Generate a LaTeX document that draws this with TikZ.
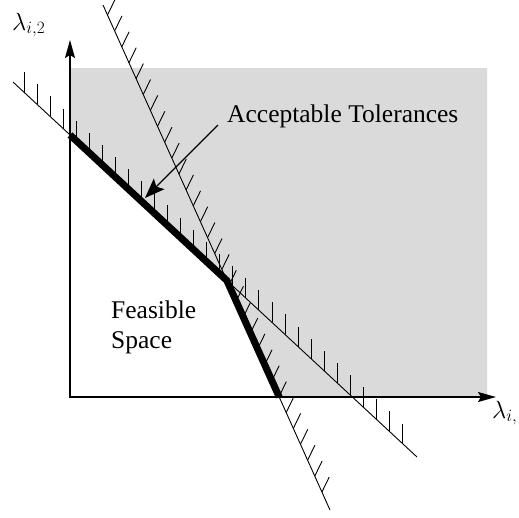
\documentclass[tikz,border=0pt]{standalone}
\usepackage{fontspec}
\setmainfont{Liberation Serif}
\newfontfamily\figserif{Liberation Serif}
\usetikzlibrary{arrows.meta}
\definecolor{greyfill}{RGB}{218,218,218}
\begin{document}
\begin{tikzpicture}[x=1pt,y=-1pt,
  hatch/.style={line width=0.9pt},
  axisline/.style={line width=1.4pt,{Stealth[length=18pt,width=10pt,inset=3pt]}-{Stealth[length=18pt,width=10pt,inset=3pt]}},
  bound/.style={line width=7pt,line join=round,line cap=butt},
  pointer/.style={line width=1.3pt,-{Stealth[length=20pt,width=15pt,inset=4pt]}},
  lbl/.style={font=\figserif\fontsize{25.5}{30}\selectfont,inner sep=0pt}]
\useasboundingbox (0,0) rectangle (519,517);
% constraint lines
\coordinate (L1a) at (13,82);
\coordinate (L1b) at (417,457);
\coordinate (L2a) at (103,5);
\coordinate (L2b) at (330,510);
% axes
\coordinate (O) at (70,397);
\coordinate (Ytop) at (70,40);
\coordinate (Xend) at (496,397);
\coordinate (C) at (intersection of L1a--L1b and L2a--L2b);
\coordinate (P) at (intersection of L1a--L1b and O--Ytop);
\coordinate (Q) at (intersection of L2a--L2b and O--Xend);
% shaded infeasible region
\fill[greyfill] (70,68) -| (487,397) -- (Q) -- (C) -- (P) -- cycle;
% constraint lines with hatches
\draw[hatch] (L1a) -- (L1b);
\draw[hatch] (L2a) -- (L2b);
\foreach \k in {0,...,29}{
  \pgfmathsetmacro\xx{24+13.05*\k}
  \pgfmathsetmacro\yy{82+0.92822*(\xx-13)}
  \draw[hatch] (\xx,\yy) -- ++(0,-20);
}
\foreach \k in {0,...,30}{
  \pgfmathsetmacro\yy{15+15.9*\k}
  \pgfmathsetmacro\xx{103+(\yy-5)/2.22467}
  \draw[hatch] (\xx,\yy) -- ++(7.3,-15);
}
% axes
\draw[axisline] (Ytop) |- (Xend);
% acceptable boundary
\draw[bound] (P) -- (C) -- (Q);
% labels
\node[lbl,anchor=base west] (acc) at (227,122) {Acceptable Tolerances};
\coordinate (ptrS) at (218,125);
\coordinate (ptrE) at (145,198);
\draw[pointer] (ptrS) -- (ptrE);
\node[lbl,anchor=north west,align=left] (feas) at (111,300.5) {Feasible\\Space};
\node[lbl,anchor=base west] (ylab) at (12,30) {$\lambda_{i,2}$};
\node[lbl,anchor=base west] (xlab) at (492,418) {$\lambda_{i,}$};
\end{tikzpicture}
\end{document}
